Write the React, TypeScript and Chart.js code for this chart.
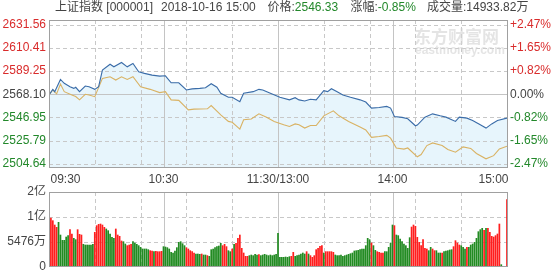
import React, { useEffect, useRef } from "react";
import { Chart, registerables } from "chart.js";

Chart.register(...registerables);

// ---------- data ----------
const PREV_CLOSE = 2568.1;
const headerName = "上证指数 [000001]";
const headerTime = "2018-10-16 15:00";
const headerPrice = "2546.33";
const headerChange = "-0.85%";
const headerVolume = "成交量:14933.82万";

const priceTicks = [2631.56, 2610.41, 2589.25, 2568.1, 2546.95, 2525.79, 2504.64];
const timeTickMinutes = [0, 60, 120, 180, 240];
const timeTickLabels = ["09:30", "10:30", "11:30/13:00", "14:00", "15:00"];
const dashedMinutes = [24, 48, 72, 96, 144, 168, 192, 216];
const solidMinutes = [60, 120, 180];
const volumeTicks = [0, 5476, 10952, 16428]; // 万

const priceMinutes = [0, 2, 3, 6, 8, 11, 13, 14, 16, 19, 21, 24, 26, 28, 32, 34, 38, 41, 44, 47, 50, 54, 58, 61, 64, 68, 72, 75, 79, 82, 85, 88, 90, 94, 96, 100, 102, 107, 110, 112, 116, 121, 126, 129, 131, 134, 137, 140, 144, 146, 148, 151, 154, 158, 163, 166, 169, 173, 177, 179, 181, 185, 188, 192, 193, 197, 201, 205, 208, 213, 215, 219, 222, 226, 229, 232, 235, 240];
const priceValues = [2567.5, 2572.6, 2570.5, 2581.7, 2578.1, 2575.0, 2573.5, 2574.5, 2570.5, 2575.6, 2575.0, 2572.6, 2575.0, 2590.2, 2595.6, 2593.2, 2597.2, 2593.2, 2596.2, 2588.6, 2587.2, 2585.6, 2584.7, 2585.0, 2578.6, 2578.6, 2572.0, 2573.0, 2573.5, 2574.0, 2577.7, 2574.5, 2569.0, 2565.4, 2565.4, 2561.4, 2569.0, 2570.5, 2572.6, 2572.0, 2569.0, 2565.4, 2563.0, 2565.0, 2563.0, 2562.0, 2563.5, 2563.0, 2571.4, 2570.5, 2573.2, 2570.5, 2567.5, 2565.4, 2563.0, 2561.0, 2555.4, 2556.0, 2557.0, 2555.5, 2547.8, 2547.0, 2545.7, 2539.3, 2540.0, 2547.2, 2550.2, 2548.4, 2547.2, 2543.3, 2547.2, 2546.3, 2544.1, 2540.2, 2537.2, 2541.0, 2544.1, 2546.33];

const avgMinutes = [0, 2, 4, 6, 8, 12, 14, 16, 19, 21, 24, 28, 32, 35, 38, 41, 44, 48, 53, 58, 61, 64, 68, 73, 76, 83, 85, 90, 94, 96, 100, 102, 106, 110, 114, 118, 123, 126, 129, 131, 134, 137, 140, 144, 149, 152, 157, 163, 166, 169, 173, 177, 179, 182, 186, 188, 193, 195, 198, 201, 206, 209, 213, 217, 221, 224, 229, 233, 236, 240];
const avgValues = [2567.5, 2572.0, 2568.5, 2577.5, 2570.5, 2567.5, 2566.0, 2563.0, 2568.1, 2567.5, 2565.9, 2582.6, 2584.1, 2581.1, 2584.1, 2581.7, 2584.1, 2575.0, 2572.6, 2569.6, 2570.5, 2563.0, 2562.5, 2553.8, 2554.5, 2554.8, 2557.8, 2549.3, 2543.3, 2542.5, 2536.3, 2544.8, 2545.5, 2550.2, 2547.0, 2543.3, 2540.2, 2538.7, 2541.0, 2540.2, 2537.2, 2539.5, 2539.5, 2548.4, 2553.0, 2548.4, 2543.3, 2538.1, 2535.5, 2528.7, 2529.5, 2530.5, 2528.0, 2519.0, 2518.0, 2519.0, 2510.9, 2513.0, 2521.2, 2523.6, 2521.2, 2517.6, 2515.1, 2520.0, 2518.6, 2514.0, 2509.1, 2512.0, 2518.2, 2520.6];

// per-minute volume (万), minute 0 = 09:30 ... 240 = 15:00
const volumeValues = [
  14450, 10800, 10220, 9270, 8760, 9860, 7080, 5910, 5910, 6640,
  6940, 8250, 7300, 6350, 6060, 8250, 7230, 7080, 5040, 4890,
  4890, 4890, 4890, 5040, 7670, 9130, 9420, 9490, 9270, 8760,
  8400, 8030, 7300, 6570, 6350, 8400, 7080, 6790, 5770, 5620,
  5110, 4750, 4890, 5040, 5620, 5330, 5040, 4750, 4380, 4020,
  4020, 4020, 3870, 3650, 3580, 3430, 3500, 3430, 3430, 3500,
  4530, 4450, 4310, 4020, 3290, 3140, 3580, 4310, 5480, 5620,
  5180, 4750, 4310, 4020, 3650, 3430, 3140, 2920, 2920, 2850,
  2920, 2700, 2700, 2560, 2410, 3870, 4020, 4310, 4530, 4670,
  5260, 4750, 5040, 4530, 3650, 3430, 4020, 5040, 5260, 6350,
  7080, 4160, 3140, 2410, 2410, 2560, 2700, 2560, 2850, 2700,
  2770, 2560, 2700, 2850, 2700, 2560, 2700, 2560, 2700, 2850,
  7450, 2190, 2190, 2190, 2260, 2190, 2340, 2410, 3290, 2410,
  2560, 2700, 2920, 3140, 2920, 3430, 2920, 2560, 2190, 2560,
  3870, 4160, 4600, 4750, 3140, 3430, 3430, 3430, 3430, 3290,
  2700, 2560, 2560, 2700, 2410, 2560, 2700, 2850, 2990, 3140,
  3580, 3650, 3720, 3870, 4020, 4020, 4750, 6350, 6060, 5330,
  4750, 3720, 3430, 3290, 3140, 3140, 3430, 3430, 4380, 5330,
  9270, 9130, 7080, 6940, 6210, 5620, 5110, 4750, 4160, 6500,
  8830, 9270, 8980, 6570, 5480, 4750, 6060, 4160, 4020, 3650,
  4380, 4020, 3650, 3650, 3140, 3140, 3140, 3430, 3580, 3650,
  3800, 3870, 4530, 5840, 5330, 4890, 4750, 4380, 4020, 4380,
  4380, 4890, 5110, 5480, 6350, 7810, 8250, 8540, 8100, 8540,
  8540, 7670, 6790, 6640, 6940, 7300, 9490, 580, 0, 0,
  14820,
];
// r = up (red), g = down (green)
const volumeDir = (
  "rrrrrggggg" + "grrggrrrgg" + "ggggrrrrrr" + "gggggrrrrg" + "grrrgggggg" +
  "gggrrgrrrr" + "gggggggggg" + "ggrrrrrggg" + "rggrgggggg" + "grrrggrgrr" +
  "rrrrrggggg" + "rggggggggg" + "gggggggrrg" + "gggggrgrrr" + "rrrrgrrrrr" +
  "gggggggggg" + "gggggggggr" + "ggrrrrgggg" + "grgggggggg" + "rrrrrrrrrg" +
  "grrgggrggg" + "ggrrrrgggr" + "ggggggggrg" + "rrrrrrrggg" + "r"
).split("");

// ---------- styles ----------
const FONT = "Arial, 'Liberation Sans', 'Noto Sans CJK SC', sans-serif";
const TXT = "#444444";
const UP_TXT = "#d92b2b";
const DOWN_TXT = "#22882a";
const BAR_UP = "rgb(255,30,30)";
const BAR_DOWN = "rgb(34,139,34)";
const LINE_BLUE = "#3a6ca8";
const LINE_GOLD = "#d9b263";
const FILL_BLUE = "#e7f5fc";
const BORDER = "#a0a0a0";
const SOLID_GRID = "#c4c4c4";
const DASH_GRID = "#c8c8c8";

Chart.defaults.font.family = FONT;
Chart.defaults.font.size = 12;

function colorFor(v: number) {
  if (v > PREV_CLOSE + 0.001) return UP_TXT;
  if (v < PREV_CLOSE - 0.001) return DOWN_TXT;
  return TXT;
}

function pct(v: number) {
  const p = (v / PREV_CLOSE - 1) * 100;
  if (Math.abs(p) < 0.005) return "0.00%";
  return (p > 0 ? "+" : "") + p.toFixed(2) + "%";
}

function fmtVol(v: number) {
  if (v === 0) return "0";
  if (v >= 10000) return Math.round(v / 10000) + "亿";
  return v + "万";
}

function line(ctx: CanvasRenderingContext2D, x1: number, y1: number, x2: number, y2: number) {
  ctx.beginPath();
  ctx.moveTo(x1, y1);
  ctx.lineTo(x2, y2);
  ctx.stroke();
}

function fitY(width: number) {
  return (s: any) => {
    s.width = width;
    s.paddingTop = 0;
    s.paddingBottom = 0;
  };
}

function makeGridPlugin(yId: string, hValues: number[], solidValue: number | null) {
  return {
    id: "customGrid",
    beforeDatasetsDraw(chart: any) {
      const { ctx, chartArea: a, scales } = chart;
      const xs = scales.x;
      const ys = scales[yId];
      ctx.save();
      ctx.lineWidth = 1;
      hValues.forEach((v) => {
        const py = Math.round(ys.getPixelForValue(v)) + 0.5;
        const solid = solidValue !== null && v === solidValue;
        ctx.strokeStyle = solid ? SOLID_GRID : DASH_GRID;
        ctx.setLineDash(solid ? [] : [4, 3]);
        line(ctx, a.left, py, a.right, py);
      });
      ctx.setLineDash([4, 3]);
      ctx.strokeStyle = DASH_GRID;
      dashedMinutes.forEach((m) => {
        const px = Math.round(xs.getPixelForValue(m)) + 0.5;
        line(ctx, px, a.top, px, a.bottom);
      });
      ctx.setLineDash([]);
      ctx.strokeStyle = SOLID_GRID;
      solidMinutes.forEach((m) => {
        const px = Math.round(xs.getPixelForValue(m)) + 0.5;
        line(ctx, px, a.top, px, a.bottom);
      });
      ctx.restore();
    },
    afterDatasetsDraw(chart: any) {
      const { ctx, chartArea: a } = chart;
      ctx.save();
      ctx.strokeStyle = BORDER;
      ctx.lineWidth = 1;
      ctx.setLineDash([]);
      const l = Math.round(a.left) + 0.5;
      const r = Math.round(a.right) + 0.5;
      const t = Math.round(a.top) + 0.5;
      const b = Math.round(a.bottom) - 0.5;
      ctx.strokeRect(l, t, r - l, b - t);
      ctx.restore();
    },
  };
}

const headerPlugin = {
  id: "header",
  beforeDatasetsDraw(chart: any) {
    const { ctx } = chart;
    ctx.save();
    ctx.fillStyle = "rgba(210,210,210,0.6)";
    ctx.textBaseline = "middle";
    ctx.textAlign = "left";
    ctx.font = "bold 17px 'Noto Sans CJK SC', sans-serif";
    ctx.fillText("东方财富网", 414, 37);
    ctx.font = "bold 12px Arial, 'Liberation Sans', sans-serif";
    ctx.fillText("eastmoney.com", 415, 51);
    ctx.restore();
  },
  afterDraw(chart: any) {
    const { ctx, scales, chartArea: a } = chart;
    ctx.save();
    ctx.font = "12px " + FONT;
    ctx.textBaseline = "middle";
    ctx.textAlign = "left";
    const y = 8;
    const seg = (text: string, x: number, color: string) => {
      ctx.fillStyle = color;
      ctx.fillText(text, x, y);
      return x + ctx.measureText(text).width;
    };
    seg(headerName, 55, TXT);
    seg(headerTime, 161, TXT);
    let x = seg("价格:", 267.5, TXT);
    seg(headerPrice, x, DOWN_TXT);
    x = seg("涨幅:", 350.5, TXT);
    seg(headerChange, x, DOWN_TXT);
    seg(headerVolume, 427, TXT);

    // time axis labels
    ctx.fillStyle = TXT;
    const xs = scales.x;
    timeTickMinutes.forEach((m, i) => {
      const px = xs.getPixelForValue(m);
      if (i === 0) {
        ctx.textAlign = "left";
        ctx.fillText(timeTickLabels[i], a.left + 1.5, 180);
      } else if (i === timeTickMinutes.length - 1) {
        ctx.textAlign = "right";
        ctx.fillText(timeTickLabels[i], px + 1.5, 180);
      } else {
        ctx.textAlign = "center";
        ctx.fillText(timeTickLabels[i], px, 180);
      }
    });
    ctx.restore();
  },
};

export default function App() {
  const mainRef = useRef<HTMLCanvasElement>(null);
  const volRef = useRef<HTMLCanvasElement>(null);

  useEffect(() => {
    const priceTickObjs = () => priceTicks.map((v) => ({ value: v }));
    const mainChart = new Chart(mainRef.current as HTMLCanvasElement, {
      type: "line",
      data: {
        datasets: [
          {
            label: "price",
            data: priceMinutes.map((m, i) => ({ x: m, y: priceValues[i] })),
            borderColor: LINE_BLUE,
            borderWidth: 1.1,
            pointRadius: 0,
            tension: 0,
            fill: "start",
            backgroundColor: FILL_BLUE,
          },
          {
            label: "avg",
            data: avgMinutes.map((m, i) => ({ x: m, y: avgValues[i] })),
            borderColor: LINE_GOLD,
            borderWidth: 1.1,
            pointRadius: 0,
            tension: 0,
            fill: false,
          },
        ],
      },
      options: {
        animation: false,
        responsive: false,
        events: [],
        layout: { padding: { top: 20, bottom: 17, left: 0, right: 0 } },
        plugins: {
          legend: { display: false },
          tooltip: { enabled: false },
          filler: { drawTime: "beforeDatasetsDraw" },
        },
        scales: {
          x: { type: "linear", min: 0, max: 240, display: false },
          y: {
            position: "left",
            min: 2500.7,
            max: 2636.0,
            grid: { display: false, drawTicks: false },
            border: { display: false },
            afterBuildTicks: (s: any) => { s.ticks = priceTickObjs(); },
            afterFit: fitY(49),
            ticks: {
              autoSkip: false,
              padding: 3,
              font: { size: 12 },
              color: (c: any) => colorFor(c.tick.value),
              callback: (v: any) => Number(v).toFixed(2),
            },
          },
          y1: {
            position: "right",
            min: 2500.7,
            max: 2636.0,
            grid: { display: false, drawTicks: false },
            border: { display: false },
            afterBuildTicks: (s: any) => { s.ticks = priceTickObjs(); },
            afterFit: fitY(48),
            ticks: {
              autoSkip: false,
              padding: 3,
              font: { size: 12 },
              color: (c: any) => colorFor(c.tick.value),
              callback: (v: any) => pct(Number(v)),
            },
          },
        },
      } as any,
      plugins: [makeGridPlugin("y", priceTicks, PREV_CLOSE), headerPlugin],
    });

    const volChart = new Chart(volRef.current as HTMLCanvasElement, {
      type: "bar",
      data: {
        datasets: [
          {
            label: "volume",
            data: volumeValues.map((v, i) => ({ x: i, y: v })),
            backgroundColor: volumeDir.map((d) => (d === "r" ? BAR_UP : BAR_DOWN)),
            borderWidth: 0,
            barPercentage: 1,
            categoryPercentage: 0.9,
          },
        ],
      },
      options: {
        animation: false,
        responsive: false,
        events: [],
        layout: { padding: { top: 7, bottom: 3, left: 0, right: 48 } },
        plugins: { legend: { display: false }, tooltip: { enabled: false } },
        scales: {
          x: { type: "linear", min: 0, max: 240, display: false, offset: false },
          y: {
            position: "left",
            min: 0,
            max: volumeTicks[volumeTicks.length - 1],
            grid: { display: false, drawTicks: false },
            border: { display: false },
            afterBuildTicks: (s: any) => { s.ticks = volumeTicks.map((v) => ({ value: v })); },
            afterFit: fitY(49),
            ticks: {
              autoSkip: false,
              padding: 3,
              color: TXT,
              font: { size: 12 },
              callback: (v: any) => fmtVol(Number(v)),
            },
          },
        },
      } as any,
      plugins: [makeGridPlugin("y", volumeTicks.slice(1, -1), null)],
    });

    return () => {
      mainChart.destroy();
      volChart.destroy();
    };
  }, []);

  return (
    <div style={{ position: "absolute", left: 0, top: 0, width: 555, height: 270, background: "#fff", overflow: "hidden" }}>
      <canvas ref={mainRef} width={555} height={185} style={{ position: "absolute", left: 0, top: 0, width: 555, height: 185 }} />
      <canvas ref={volRef} width={555} height={85} style={{ position: "absolute", left: 0, top: 185, width: 555, height: 85 }} />
    </div>
  );
}
